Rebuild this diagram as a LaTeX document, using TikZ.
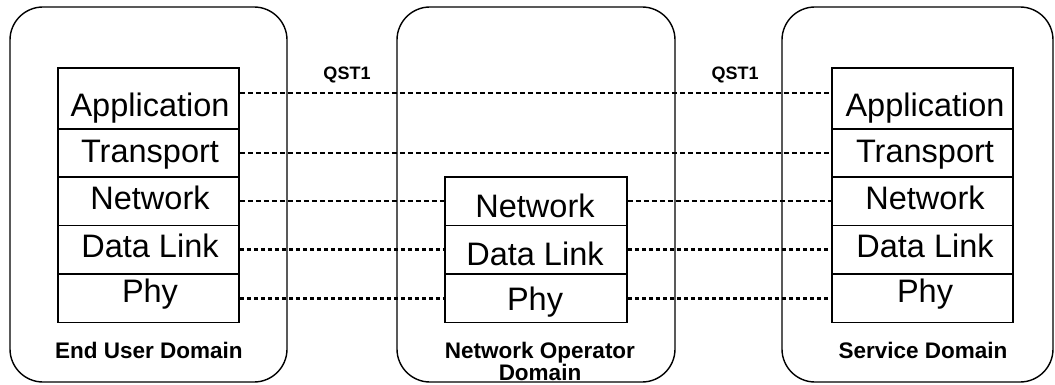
\documentclass[tikz,border=0pt]{standalone}
\usepackage{fontspec}
\setmainfont{Liberation Sans}
\begin{document}
\begin{tikzpicture}[x=1pt,y=-1pt,
  dombox/.style={draw, line width=1.4pt, rounded corners=33pt, inner sep=0pt},
  layerbox/.style={draw, line width=1.5pt, rectangle, inner sep=0pt, minimum width=181pt, minimum height=48.5pt},
  ltext/.style={anchor=base, inner sep=0pt, font=\fontsize{32.5}{32.5}\selectfont},
  dtext/.style={anchor=base, inner sep=0pt, font=\fontsize{22.5}{22.5}\selectfont\bfseries},
  qtext/.style={anchor=base, inner sep=0pt, font=\fontsize{18}{18}\selectfont\bfseries},
  upline/.style={line width=1.7pt, dash pattern=on 5pt off 3pt},
  lowline/.style={line width=3pt, dash pattern=on 4pt off 3pt}]
\useasboundingbox (0,0) rectangle (1055,385);
% domains
\draw[dombox] (10,7) rectangle (287,382);
\draw[dombox] (397,7) rectangle (675,382);
\draw[dombox] (782,7) rectangle (1053,382);
% left stack
\node[layerbox, minimum height=61pt] (LA) at (148.5,98.5) {};
\node[layerbox] (LT) at (148.5,153) {};
\node[layerbox] (LN) at (148.5,201) {};
\node[layerbox] (LD) at (148.5,249.5) {};
\node[layerbox] (LP) at (148.5,298) {};
% right stack
\node[layerbox, minimum height=61pt] (RA) at (922.5,98.5) {};
\node[layerbox] (RT) at (922.5,153) {};
\node[layerbox] (RN) at (922.5,201) {};
\node[layerbox] (RD) at (922.5,249.5) {};
\node[layerbox] (RP) at (922.5,298) {};
% middle stack
\node[layerbox, minimum width=182pt] (MN) at (536,201) {};
\node[layerbox, minimum width=182pt] (MD) at (536,249.5) {};
\node[layerbox, minimum width=182pt] (MP) at (536,298) {};
% texts
\node[ltext] at (150,117) {Application};
\node[ltext] at (150,163) {Transport};
\node[ltext] at (150,209) {Network};
\node[ltext] at (150,257) {Data Link};
\node[ltext] at (150,302) {Phy};
\node[ltext] at (925,117) {Application};
\node[ltext] at (925,163) {Transport};
\node[ltext] at (925,209) {Network};
\node[ltext] at (925,257) {Data Link};
\node[ltext] at (925,302) {Phy};
\node[ltext] at (535,217) {Network};
\node[ltext] at (535,265) {Data Link};
\node[ltext] at (535,310) {Phy};
% domain labels
\node[dtext] at (149,358) {End User Domain};
\node[dtext] at (540,358) {Network Operator};
\node[dtext] at (540,380) {Domain};
\node[dtext] at (923,358) {Service Domain};
% QST labels
\node[qtext] at (347,80) {QST1};
\node[qtext] at (735,80) {QST1};
% connectors
\coordinate (qa) at (0,93);
\draw[upline] (LA.east |- qa) -- (RA.west |- qa);
\draw[upline] (LT.east) -- (RT.west);
\draw[upline] (LN.east) -- (MN.west);
\draw[upline] (MN.east) -- (RN.west);
\draw[lowline] (LD.east) -- (MD.west);
\draw[lowline] (MD.east) -- (RD.west);
\draw[lowline] (LP.east) -- (MP.west);
\draw[lowline] (MP.east) -- (RP.west);
\end{tikzpicture}
\end{document}
